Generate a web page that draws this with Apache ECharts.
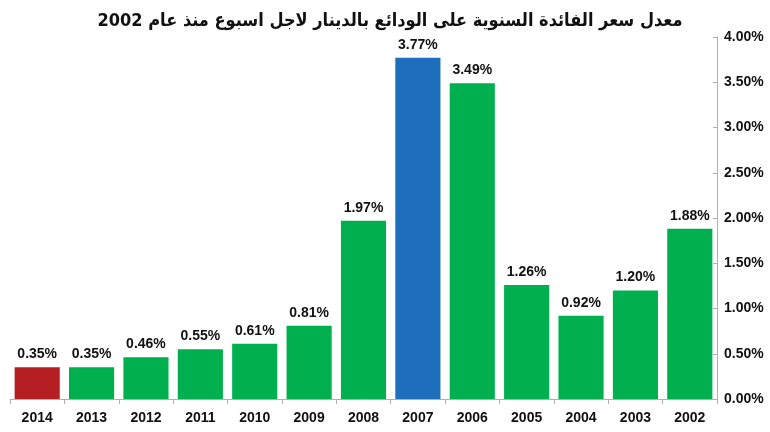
<!DOCTYPE html>
<html>
<head>
<meta charset="utf-8">
<script src="https://cdn.jsdelivr.net/npm/echarts@6/dist/echarts.min.js"></script>
<style>
  html, body { margin: 0; padding: 0; background: #fff; }
  #main { width: 770px; height: 432px; }
</style>
</head>
<body>
<div id="main"></div>
<script>
// السنوات (من اليسار الى اليمين)
const years = ['2014', '2013', '2012', '2011', '2010', '2009', '2008', '2007', '2006', '2005', '2004', '2003', '2002'];
// معدل الفائدة %
const rates = [0.35, 0.35, 0.46, 0.55, 0.61, 0.81, 1.97, 3.77, 3.49, 1.26, 0.92, 1.20, 1.88];
const yTicks = [0, 0.5, 1, 1.5, 2, 2.5, 3, 3.5, 4];

const GREEN = '#00b04f';
const RED = '#b51f24';
const BLUE = '#1d6fbe';

function barColor(year) {
    if (year === '2014') return RED;
    if (year === '2007') return BLUE;
    return GREEN;
}

let myChart = echarts.init(document.getElementById('main'));

let option = {
    animation: false,
    title: {
        text: 'معدل سعر الفائدة السنوية على الودائع بالدينار لاجل اسبوع منذ عام 2002',
        left: 385,
        textAlign: 'center',
        top: 7,
        textStyle: {
            fontFamily: '"DejaVu Sans Condensed", "DejaVu Sans", sans-serif',
            fontSize: 18,
            fontWeight: 'bold',
            color: '#111'
        }
    },
    grid: {
        left: 10,
        right: 53,
        top: 37,
        bottom: 33
    },
    xAxis: {
        type: 'category',
        data: years,
        axisLine: { lineStyle: { color: '#b0b0b0', width: 1 } },
        axisTick: { show: true, length: 5, lineStyle: { color: '#b0b0b0' } },
        axisLabel: {
            margin: 12,
            fontFamily: 'Arial, "Liberation Sans", sans-serif',
            fontSize: 14,
            fontWeight: 'bold',
            color: '#111'
        }
    },
    yAxis: {
        type: 'value',
        position: 'right',
        min: 0,
        max: yTicks[yTicks.length - 1],
        interval: 0.5,
        splitLine: { show: false },
        axisLine: { show: true, lineStyle: { color: '#b0b0b0', width: 1 } },
        axisTick: { show: true, inside: true, length: 4, lineStyle: { color: '#b0b0b0' } },
        axisLabel: {
            margin: 7,
            fontFamily: 'Arial, "Liberation Sans", sans-serif',
            fontSize: 14,
            fontWeight: 'bold',
            color: '#111',
            formatter: function (v) { return v.toFixed(2) + '%'; }
        }
    },
    series: [
        {
            type: 'bar',
            barCategoryGap: '17%',
            data: rates.map(function (v, i) {
                return { value: v, itemStyle: { color: barColor(years[i]) } };
            }),
            label: {
                show: true,
                position: 'top',
                distance: 6,
                fontFamily: 'Arial, "Liberation Sans", sans-serif',
                fontSize: 14,
                fontWeight: 'bold',
                color: '#111',
                formatter: function (p) { return p.value.toFixed(2) + '%'; }
            }
        }
    ]
};

myChart.setOption(option);
</script>
</body>
</html>
